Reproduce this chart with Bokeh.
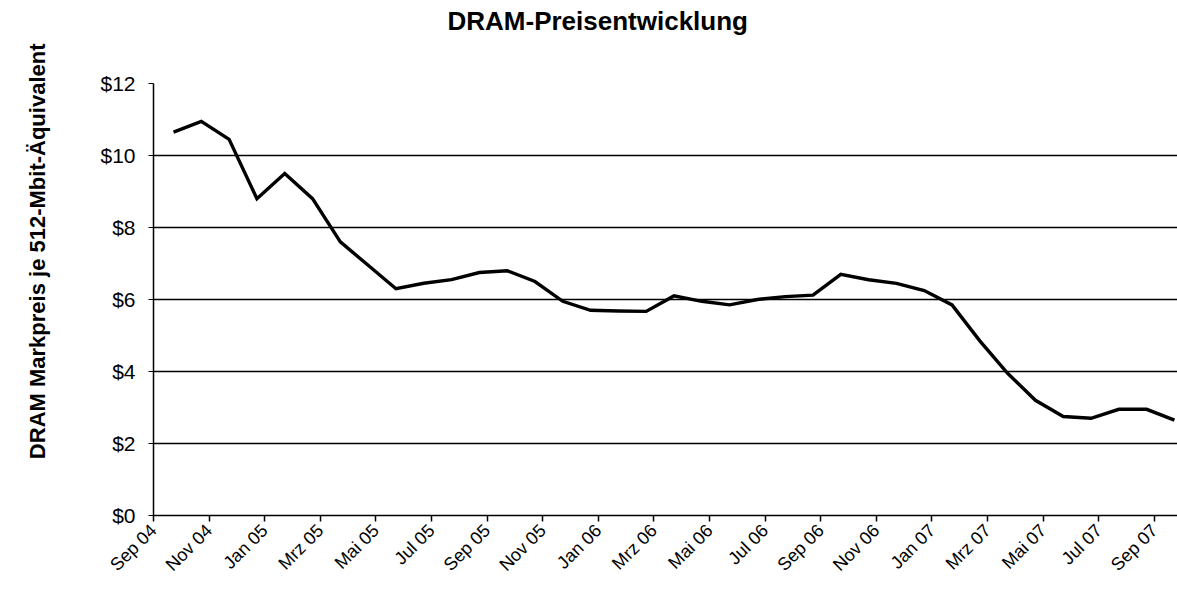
import numpy as np
from math import pi
from bokeh.plotting import figure
from bokeh.models import FixedTicker, Range1d, NumeralTickFormatter, Title
from bokeh.embed import file_html
from bokeh.resources import INLINE

# Monthly DRAM prices (USD per 512-Mbit equivalent), Sep 2004 .. Sep 2007
months = ["Sep 04", "Okt 04", "Nov 04", "Dez 04", "Jan 05", "Feb 05", "Mrz 05", "Apr 05",
          "Mai 05", "Jun 05", "Jul 05", "Aug 05", "Sep 05", "Okt 05", "Nov 05", "Dez 05",
          "Jan 06", "Feb 06", "Mrz 06", "Apr 06", "Mai 06", "Jun 06", "Jul 06", "Aug 06",
          "Sep 06", "Okt 06", "Nov 06", "Dez 06", "Jan 07", "Feb 07", "Mrz 07", "Apr 07",
          "Mai 07", "Jun 07", "Jul 07", "Aug 07", "Sep 07"]
prices = [10.65, 10.95, 10.45, 8.80, 9.50, 8.80, 7.60, 6.95,
          6.30, 6.45, 6.55, 6.75, 6.80, 6.50, 5.95, 5.70,
          5.68, 5.67, 6.10, 5.95, 5.85, 6.00, 6.08, 6.12,
          6.70, 6.55, 6.45, 6.25, 5.85, 4.85, 3.95, 3.20,
          2.75, 2.70, 2.95, 2.95, 2.65]
tick_labels = ["Sep 04", "Nov 04", "Jan 05", "Mrz 05", "Mai 05", "Jul 05", "Sep 05",
               "Nov 05", "Jan 06", "Mrz 06", "Mai 06", "Jul 06", "Sep 06", "Nov 06",
               "Jan 07", "Mrz 07", "Mai 07", "Jul 07", "Sep 07"]
y_ticks = [0, 2, 4, 6, 8, 10, 12]

FONT = "Liberation Sans"
x_offset = 0.72
x = np.arange(len(prices)) + x_offset
x_ticks = [2 * k for k in range(len(tick_labels))]

p = figure(width=1177, height=594, output_backend="svg", toolbar_location=None,
           x_range=Range1d(0, 36.83), y_range=Range1d(0, 12),
           min_border_left=153, min_border_right=0, min_border_top=83, min_border_bottom=79)
p.outline_line_color = None
p.background_fill_color = "white"
p.border_fill_color = "white"

p.line(x, prices, line_color="black", line_width=3.4, line_join="miter")

# y axis
p.yaxis.ticker = FixedTicker(ticks=y_ticks)
p.yaxis.formatter = NumeralTickFormatter(format="$0")
p.yaxis.major_label_text_font = FONT
p.yaxis.major_label_text_font_size = "21px"
p.yaxis.major_label_text_color = "black"
p.yaxis.major_label_standoff = 13
p.yaxis.major_tick_out = 5
p.yaxis.major_tick_in = 0
p.yaxis.minor_tick_line_color = None
p.yaxis.axis_line_color = "black"
p.yaxis.axis_line_width = 1.5
p.yaxis.major_tick_line_color = "black"
p.yaxis.major_tick_line_width = 1.2

# x axis
p.xaxis.ticker = FixedTicker(ticks=x_ticks)
p.xaxis.major_label_overrides = {t: lab for t, lab in zip(x_ticks, tick_labels)}
p.xaxis.major_label_orientation = pi / 4
p.xaxis.major_label_text_font = FONT
p.xaxis.major_label_text_font_size = "18px"
p.xaxis.major_label_text_color = "black"
p.xaxis.major_label_standoff = 6
p.xaxis.major_tick_out = 6
p.xaxis.major_tick_in = 0
p.xaxis.minor_tick_line_color = None
p.xaxis.axis_line_color = "black"
p.xaxis.axis_line_width = 1.5
p.xaxis.major_tick_line_color = "black"
p.xaxis.major_tick_line_width = 1.5

# grid
p.xgrid.visible = False
p.ygrid.grid_line_color = "black"
p.ygrid.grid_line_width = 1.4

# chart title (second, blank line keeps it high above the plot area)
p.title = Title(text="DRAM-Preisentwicklung\n\u00a0", align="left", offset=294, standoff=5,
                text_font=FONT, text_font_style="bold", text_font_size="26px",
                text_line_height=1.5, text_color="black")

# y-axis title, placed on the left side
ytitle = Title(text="DRAM Markpreis je 512-Mbit-Äquivalent\n\u00a0", align="right", offset=-40,
               standoff=45, text_font=FONT, text_font_style="bold",
               text_font_size="22px", text_color="black")
p.add_layout(ytitle, "left")

open("out.html", "w").write(file_html(p, INLINE))
